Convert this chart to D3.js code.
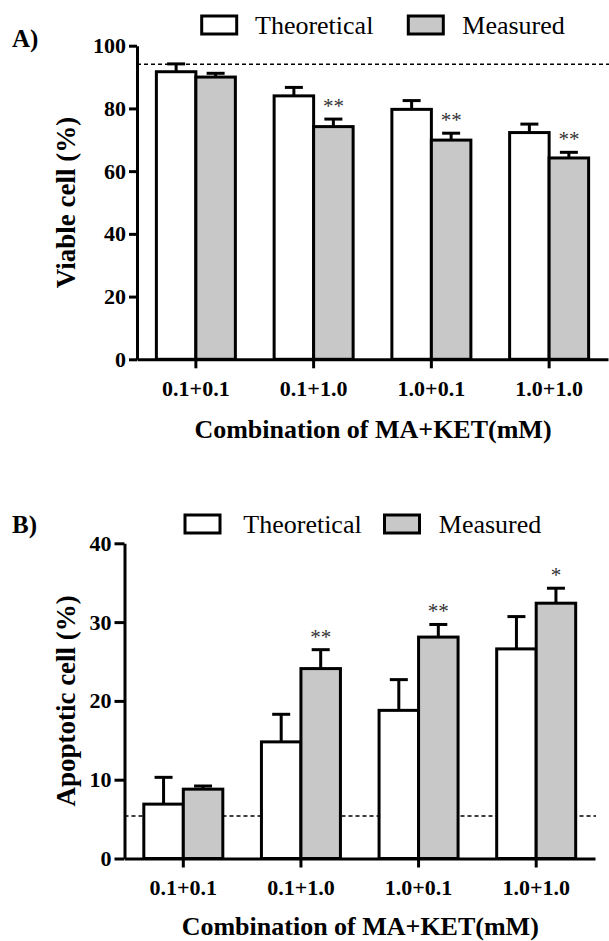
<!DOCTYPE html>
<html>
<head>
<meta charset="utf-8">
<script src="https://cdn.jsdelivr.net/npm/d3@7"></script>
<style>
    body { margin: 0; background: #fff; }
    svg, svg text { font-family: 'Liberation Serif', 'Times New Roman', serif; }
    .domain, .tick line { stroke: #000; stroke-width: 3px; }
    .tick text { font-size: 22px; font-weight: bold; fill: #000; font-family: 'Liberation Serif', 'Times New Roman', serif; }
</style>
</head>
<body>
<script>

// DATA

const categories = ['0.1+0.1', '0.1+1.0', '1.0+0.1', '1.0+1.0'];
const series = ['Theoretical', 'Measured'];

const viableTheoretical = [91.7, 84.0, 79.7, 72.3];
const viableTheoreticalErr = [2.5, 2.7, 2.8, 2.7];
const viableMeasured = [90.0, 74.2, 69.9, 64.2];
const viableMeasuredErr = [1.2, 2.4, 2.2, 1.8];
const viableStars = ['', '**', '**', '**'];
const viableControl = 94.1;
const viableTicks = [0, 20, 40, 60, 80, 100];

const apoptTheoretical = [6.9, 14.8, 18.8, 26.6];
const apoptTheoreticalErr = [3.4, 3.5, 3.9, 4.1];
const apoptMeasured = [8.8, 24.1, 28.1, 32.4];
const apoptMeasuredErr = [0.4, 2.4, 1.6, 1.9];
const apoptStars = ['', '**', '**', '*'];
const apoptControl = 5.4;
const apoptTicks = [0, 10, 20, 30, 40];

const fills = {Theoretical: '#ffffff', Measured: '#c8c8c8'};

(function(){

    const svg = d3
        .select('body')
        .append('svg')
        .attr('width', 609)
        .attr('height', 941);

    // panel A
    drawPanel({
        letter: 'A)',
        letterY: 47,
        title: 'Viable cell (%)',
        theo: viableTheoretical, theoErr: viableTheoreticalErr,
        meas: viableMeasured, measErr: viableMeasuredErr,
        stars: viableStars,
        control: viableControl,
        ticks: viableTicks,
        left: 137, right: 608, top: 45.7, bottom: 359.3,
        lineEnd: 609,
        tickSize: 8,
        titleGap: 79,
        legendY: 16,
        legend: [[201.7, 255], [408.3, 462.3]]
    });

    // panel B
    drawPanel({
        letter: 'B)',
        letterY: 533,
        title: 'Apoptotic cell (%)',
        theo: apoptTheoretical, theoErr: apoptTheoreticalErr,
        meas: apoptMeasured, measErr: apoptMeasuredErr,
        stars: apoptStars,
        control: apoptControl,
        ticks: apoptTicks,
        left: 124.5, right: 595, top: 543.3, bottom: 858.5,
        lineEnd: 596,
        tickSize: 10,
        titleGap: 76,
        legendY: 515,
        legend: [[185, 243.3], [384.5, 438.8]]
    });


// PANEL

function drawPanel(p){

    const g = svg.append('g');

    const yMax = p.ticks[p.ticks.length - 1];

    const y = d3.scaleLinear()
        .domain([0, yMax])
        .range([p.bottom, p.top]);

    const x0 = d3.scaleBand()
        .domain(categories)
        .range([p.left, p.right])
        .padding(0);

    const x1 = d3.scaleBand()
        .domain(series)
        .range([-39.5, 39.5])
        .padding(0);

    const rows = categories.map(function(c, i){
        return [
            {cat: c, s: 'Theoretical', v: p.theo[i], e: p.theoErr[i]},
            {cat: c, s: 'Measured', v: p.meas[i], e: p.measErr[i], star: p.stars[i]}
        ];
    });

    // control line
    g.append('line')
        .attr('x1', p.left)
        .attr('x2', p.lineEnd)
        .attr('y1', y(p.control))
        .attr('y2', y(p.control))
        .attr('stroke', '#000')
        .attr('stroke-width', 1.5)
        .attr('stroke-dasharray', '4,3');

    const groups = g
        .selectAll('.grp')
        .data(rows)
        .enter()
        .append('g')
        .attr('class', 'grp')
        .attr('transform', function(d, i){
            return 'translate(' + (x0(categories[i]) + x0.bandwidth() / 2) + ',0)';
        });

    const items = groups
        .selectAll('.item')
        .data(function(d){ return d; })
        .enter()
        .append('g')
        .attr('class', 'item');

    // error bars (upper only)
    items.append('line')
        .attr('x1', function(d){ return x1(d.s) + x1.bandwidth() / 2; })
        .attr('x2', function(d){ return x1(d.s) + x1.bandwidth() / 2; })
        .attr('y1', function(d){ return y(d.v); })
        .attr('y2', function(d){ return y(d.v + d.e); })
        .attr('stroke', '#000')
        .attr('stroke-width', 3);

    items.append('line')
        .attr('x1', function(d){ return x1(d.s) + x1.bandwidth() / 2 - 9; })
        .attr('x2', function(d){ return x1(d.s) + x1.bandwidth() / 2 + 9; })
        .attr('y1', function(d){ return y(d.v + d.e); })
        .attr('y2', function(d){ return y(d.v + d.e); })
        .attr('stroke', '#000')
        .attr('stroke-width', 3);

    items.append('rect')
        .attr('x', function(d){ return x1(d.s); })
        .attr('width', x1.bandwidth())
        .attr('y', function(d){ return y(d.v); })
        .attr('height', function(d){ return y(0) - y(d.v); })
        .attr('fill', function(d){ return fills[d.s]; })
        .attr('stroke', '#000')
        .attr('stroke-width', 3);

    // significance stars
    items.filter(function(d){ return d.star; })
        .append('text')
        .attr('x', function(d){ return x1(d.s) + x1.bandwidth() / 2; })
        .attr('y', function(d){ return y(d.v + d.e) - 6; })
        .attr('text-anchor', 'middle')
        .style('font-size', '21px')
        .attr('fill', '#333')
        .text(function(d){ return d.star; });

    // axes
    const yAxis = d3.axisLeft(y)
        .tickValues(p.ticks)
        .tickSize(p.tickSize)
        .tickSizeOuter(0)
        .tickPadding(3);

    g.append('g')
        .attr('transform', 'translate(' + p.left + ',0)')
        .call(yAxis)
        .attr('font-family', null)
        .attr('font-size', null);

    const xAxis = d3.axisBottom(x0)
        .tickSize(9)
        .tickSizeOuter(0)
        .tickPadding(12);

    g.append('g')
        .attr('transform', 'translate(0,' + p.bottom + ')')
        .call(xAxis)
        .attr('font-family', null)
        .attr('font-size', null)
        .selectAll('.tick text')
        .attr('dy', '0.71em');

    // titles
    g.append('text')
        .attr('x', (p.left + p.lineEnd) / 2)
        .attr('y', p.bottom + p.titleGap)
        .attr('text-anchor', 'middle')
        .style('font-size', '26px')
        .style('font-weight', 'bold')
        .text('Combination of MA+KET(mM)');

    g.append('text')
        .attr('transform', 'translate(75,' + (p.top + p.bottom) / 2 + ') rotate(-90)')
        .attr('text-anchor', 'middle')
        .style('font-size', '27px')
        .style('font-weight', 'bold')
        .text(p.title);

    g.append('text')
        .attr('x', 12)
        .attr('y', p.letterY)
        .style('font-size', '25px')
        .style('font-weight', 'bold')
        .text(p.letter);

    // legend
    series.forEach(function(s, i){
        g.append('rect')
            .attr('x', p.legend[i][0])
            .attr('y', p.legendY)
            .attr('width', 35)
            .attr('height', 18)
            .attr('fill', fills[s])
            .attr('stroke', '#000')
            .attr('stroke-width', 3);

        g.append('text')
            .attr('x', p.legend[i][1])
            .attr('y', p.legendY + 17.5)
            .style('font-size', '26px')
            .text(s);
    });
};

})();
</script>
</body>
</html>
